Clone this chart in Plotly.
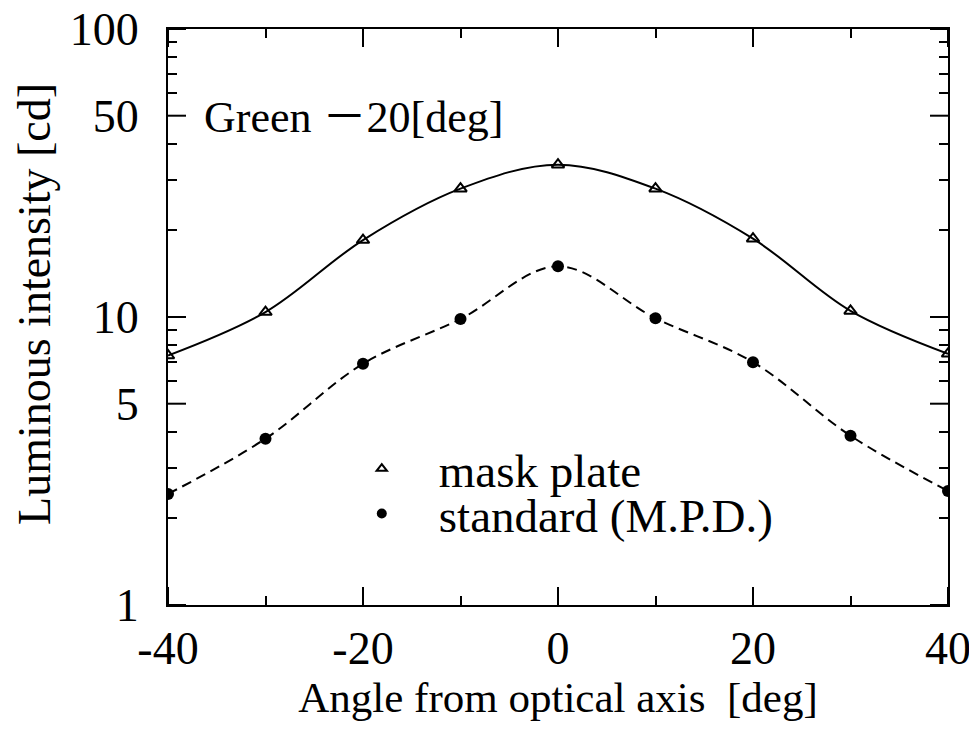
import plotly.graph_objects as go

angles = [-40, -30, -20, -10, 0, 10, 20, 30, 40]
mask_plate = [7.35, 10.4, 18.5, 27.9, 33.8, 27.9, 18.7, 10.5, 7.45]
standard = [2.43, 3.78, 6.88, 9.84, 15.0, 9.9, 6.97, 3.87, 2.49]

x_major = [-40, -20, 0, 20, 40]
x_minor = [-30, -10, 10, 30]
y_major = [1, 5, 10, 50, 100]
y_major_text = ["1", "5", "10", "50", "100"]
y_minor = [2, 3, 4, 6, 7, 8, 9, 20, 30, 40, 60, 70, 80, 90]

FONT = "Liberation Serif, Times New Roman, serif"
XR = [-40, 40]
YR = [0, 2]
MAJOR_LEN = 18

fig = go.Figure()
fig.add_trace(go.Scatter(
    x=angles, y=mask_plate, mode="lines+markers", showlegend=False,
    line=dict(color="black", width=2, shape="spline", smoothing=1.0),
    marker=dict(symbol="triangle-up-open", size=11, color="black", line=dict(width=2, color="black")),
))
fig.add_trace(go.Scatter(
    x=angles, y=standard, mode="lines+markers", showlegend=False,
    line=dict(color="black", width=2, dash="10px,6px", shape="spline", smoothing=1.0),
    marker=dict(symbol="circle", size=12, color="black"),
))
# legend entries (markers only), each in its own legend box
fig.add_trace(go.Scatter(
    x=[None], y=[None], mode="markers", name="mask plate", legend="legend",
    marker=dict(symbol="triangle-up-open", size=9, color="black", line=dict(width=2, color="black")),
))
fig.add_trace(go.Scatter(
    x=[None], y=[None], mode="markers", name="standard (M.P.D.)", legend="legend2",
    marker=dict(symbol="circle", size=10, color="black"),
))
# empty trace so the minor-tick overlay axes get drawn
fig.add_trace(go.Scatter(x=[None], y=[None], xaxis="x3", yaxis="y3", showlegend=False, hoverinfo="skip"))

line_axis = dict(showline=True, linewidth=2, linecolor="black", mirror=True,
                 showgrid=False, zeroline=False, automargin=False,
                 ticklabeloverflow="allow")
tick_axis = dict(showline=False, showgrid=False, zeroline=False, automargin=False,
                 mirror="ticks", ticks="inside", tickwidth=2, tickcolor="black",
                 showticklabels=False, tickmode="array")

leg = dict(xanchor="left", yanchor="middle", bgcolor="rgba(0,0,0,0)",
           font=dict(size=47), itemwidth=104, borderwidth=0)

fig.update_layout(
    width=969, height=732,
    margin=dict(l=160, r=29, t=21, b=135, autoexpand=False),
    paper_bgcolor="white", plot_bgcolor="white",
    font=dict(family=FONT, color="black", size=46),
    legend=dict(leg, x=0.201, y=0.236),
    legend2=dict(leg, x=0.201, y=0.158),
    xaxis=dict(
        line_axis, range=XR, tickmode="array", tickvals=x_major,
        ticktext=[str(v) for v in x_major], ticks="", ticklabelstandoff=2,
        tickfont=dict(size=46),
        title=dict(text="Angle from optical axis  [deg]", font=dict(size=43), standoff=4),
    ),
    yaxis=dict(
        line_axis, type="log", range=YR, tickmode="array", tickvals=y_major,
        ticktext=y_major_text, ticks="", ticklabelstandoff=18,
        tickfont=dict(size=46),
    ),
    xaxis3=dict(tick_axis, overlaying="x", range=XR, tickvals=x_minor, ticklen=9, side="bottom"),
    yaxis3=dict(tick_axis, overlaying="y", type="log", range=YR, tickvals=y_minor, ticklen=9, side="left"),
)

# major tick marks (bottom/top and left/right), placed on the axes' own scales
tick_line = dict(color="black", width=2)
for v in x_major:
    fig.add_shape(type="line", xref="x", yref="paper", x0=v, x1=v,
                  ysizemode="pixel", yanchor=0, y0=0, y1=MAJOR_LEN, line=tick_line, layer="above")
    fig.add_shape(type="line", xref="x", yref="paper", x0=v, x1=v,
                  ysizemode="pixel", yanchor=1, y0=0, y1=-MAJOR_LEN, line=tick_line, layer="above")
for v in y_major:
    fig.add_shape(type="line", xref="paper", yref="y", y0=v, y1=v,
                  xsizemode="pixel", xanchor=0, x0=0, x1=MAJOR_LEN, line=tick_line, layer="above")
    fig.add_shape(type="line", xref="paper", yref="y", y0=v, y1=v,
                  xsizemode="pixel", xanchor=1, x0=0, x1=-MAJOR_LEN, line=tick_line, layer="above")

fig.add_annotation(
    text="Luminous intensity [cd]", textangle=-90, xref="paper", yref="paper",
    x=-0.171, y=0.522, xanchor="center", yanchor="middle", showarrow=False,
    font=dict(size=46),
)
fig.add_annotation(
    text='Green <span style="font-family:Noto Sans CJK JP">－</span>20[deg]',
    xref="paper", yref="paper", x=0.044, y=0.854,
    xanchor="left", yanchor="middle", showarrow=False, font=dict(size=44),
)

fig.write_html("out.html")
